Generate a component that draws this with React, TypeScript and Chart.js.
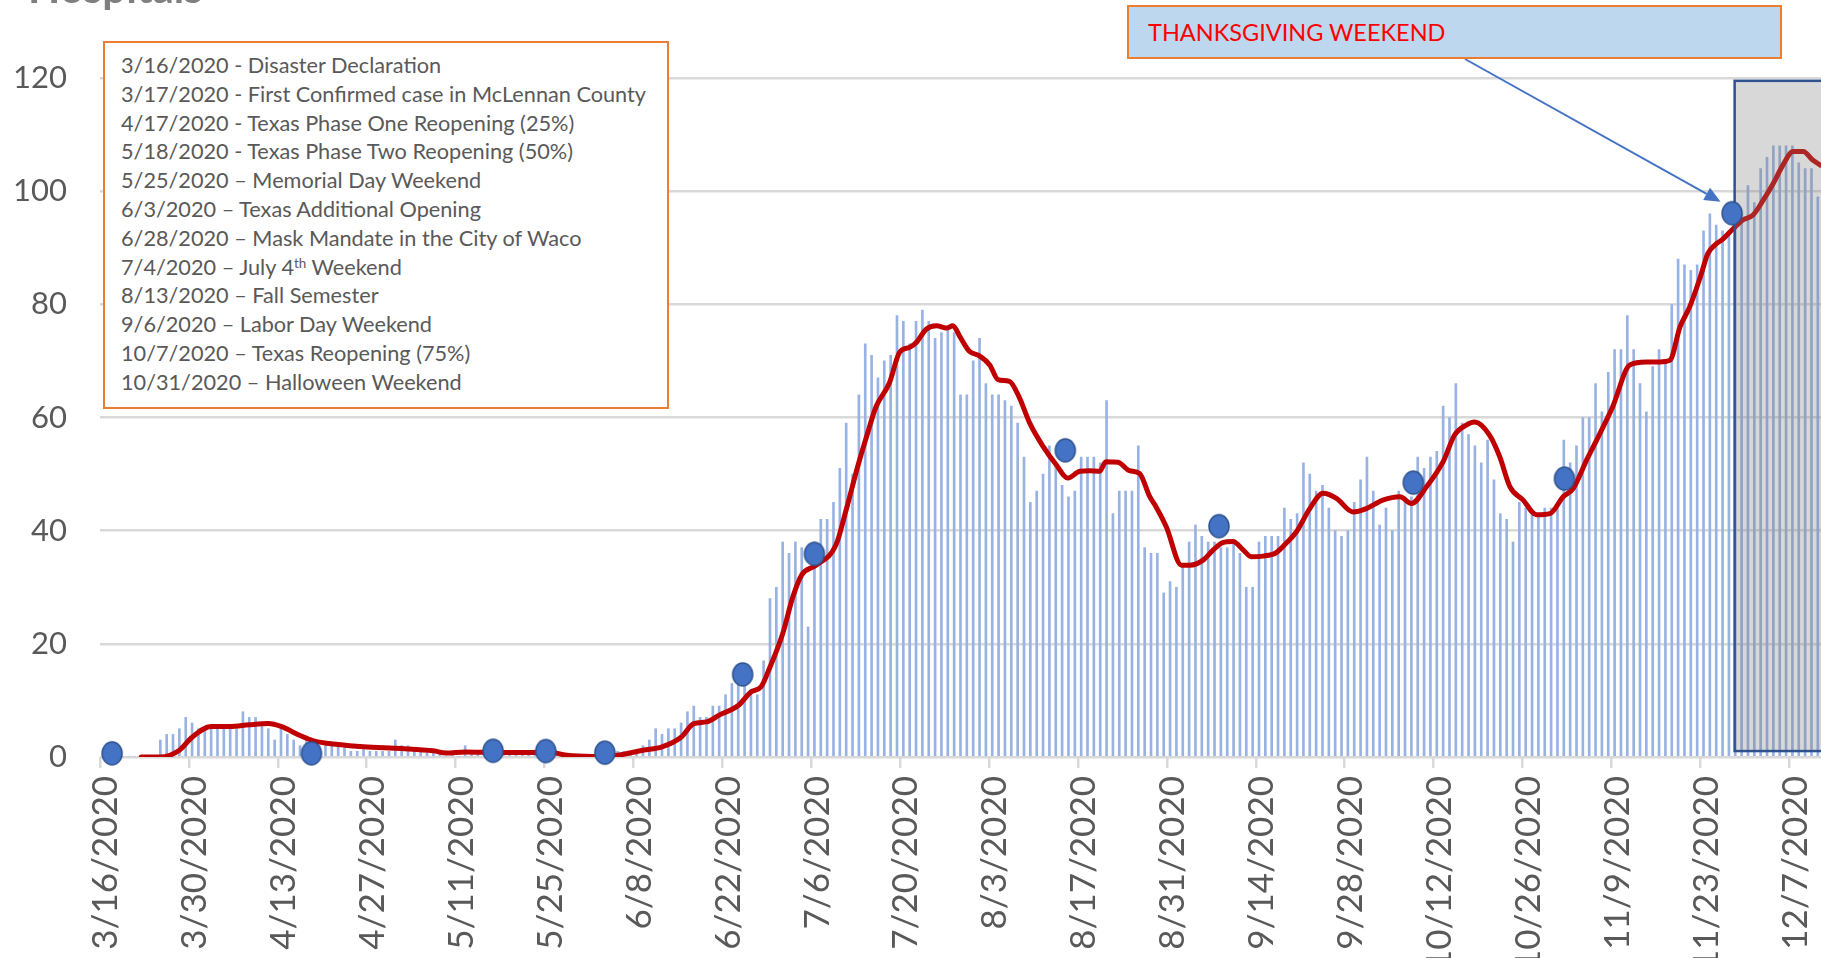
import React, { useEffect, useRef } from "react";
import { Chart, registerables } from "chart.js";

Chart.register(...registerables);

// ---------------- data (day index 0 = 3/16/2020) ----------------
const tickDays = [0, 14, 28, 42, 56, 70, 84, 98, 112, 126, 140, 154, 168, 182, 196, 210, 224, 238, 252, 266];
const tickLabels = [
  "3/16/2020", "3/30/2020", "4/13/2020", "4/27/2020", "5/11/2020", "5/25/2020", "6/8/2020",
  "6/22/2020", "7/6/2020", "7/20/2020", "8/3/2020", "8/17/2020", "8/31/2020", "9/14/2020",
  "9/28/2020", "10/12/2020", "10/26/2020", "11/9/2020", "11/23/2020", "12/7/2020",
];
const yMin = 0;
const yMax = 120;
const yStep = 20;

// daily hospitalized patients, 3/16/2020 .. 12/11/2020
const dailyHospitalized = [
  0, 0, 0, 0, 0, 0, 0, 0, 0, 3,
  4, 4, 5, 7, 6, 5, 5, 5, 5, 5,
  5, 5, 8, 7, 7, 6, 5, 3, 5, 4,
  3, 2, 3, 2, 2, 2, 2, 2, 2, 1,
  1, 2, 1, 1, 1, 1, 3, 2, 2, 1,
  1, 1, 1, 1, 0, 1, 0, 2, 1, 1,
  1, 1, 1, 1, 1, 1, 1, 1, 1, 1,
  0, 0, 0, 0, 0, 0, 0, 0, 0, 0,
  1, 1, 1, 1, 1, 2, 3, 5, 4, 5,
  5, 6, 8, 9, 7, 7, 9, 9, 11, 13,
  13, 14, 12, 11, 17, 28, 30, 38, 36, 38,
  37, 23, 38, 42, 42, 45, 51, 59, 50, 64,
  73, 71, 67, 70, 71, 78, 77, 73, 77, 79,
  77, 74, 75, 76, 75, 64, 64, 70, 74, 66,
  64, 64, 63, 62, 59, 53, 45, 47, 50, 55,
  52, 48, 46, 47, 53, 53, 53, 52, 63, 43,
  47, 47, 47, 55, 37, 36, 36, 29, 31, 30,
  34, 38, 41, 39, 38, 38, 37, 37, 38, 36,
  30, 30, 38, 39, 39, 39, 44, 42, 43, 52,
  50, 47, 48, 44, 40, 39, 40, 45, 49, 53,
  47, 41, 44, 40, 47, 46, 46, 53, 51, 53,
  54, 62, 60, 66, 59, 57, 55, 52, 56, 49,
  43, 42, 38, 45, 44, 43, 43, 44, 44, 45,
  56, 52, 55, 60, 60, 66, 61, 68, 72, 72,
  78, 72, 66, 61, 69, 72, 70, 80, 88, 87,
  86, 87, 93, 96, 94, 93, 93, 95, 96, 101,
  98, 104, 106, 108, 108, 108, 108, 105, 104, 104,
  99,
];

// moving-average line (day index, value)
const avgDay = [
  6, 9, 12, 14, 17, 20, 23, 26, 28, 31,
  33, 37, 41, 47, 52, 54, 57, 62, 67, 70,
  73, 77, 81, 85, 88, 91, 93, 95, 97, 100,
  102, 103.6, 105, 107, 108.6, 110, 112.3, 115.4, 117, 118.8,
  120.2, 121.7, 123.8, 125.4, 127, 128, 129.6, 131.2, 132.8, 133.8,
  134.9, 136.4, 138, 139.6, 140.9, 142.7, 144.2, 145.9, 148, 150.1,
  151.9, 153.8, 155.3, 156.9, 157.9, 159.8, 161.6, 163.2, 164.8, 165.8,
  167.4, 169.8, 171.1, 173.2, 174.8, 176.3, 177.9, 179.5, 180.8, 182.6,
  184.7, 186.3, 187.9, 190, 192.1, 194.2, 196.8, 198.9, 201.5, 204.2,
  206, 208.4, 211, 212.8, 214.7, 216, 218.3, 219.9, 221.5, 223.6,
  225.7, 227.8, 229.9, 231.5, 233.6, 235.7, 237.7, 240.4, 243, 245.1,
  246.7, 248.3, 249.8, 251.4, 252.7, 253.8, 255, 256.7, 258.2, 259.8,
  261.4, 263, 264.5, 266.1, 267.7, 269.2, 270.4,
];
const avgValue = [
  0, 0, 1.2, 3.5, 5.4, 5.4, 5.7, 5.9, 5.4, 3.8,
  2.9, 2.2, 1.8, 1.5, 1.1, 0.7, 0.9, 0.8, 0.8, 0.9,
  0.3, 0.1, 0.3, 1.2, 1.8, 3.5, 5.9, 6.2, 7.4, 9.1,
  11.5, 12.4, 15.9, 21.8, 28.3, 32.2, 33.9, 37.5, 43.7, 51.3,
  56.6, 61.9, 66.1, 71.5, 72.4, 73.2, 75.6, 76.2, 75.8, 76.2,
  74.3, 71.7, 70.9, 69.3, 66.7, 66.4, 63.7, 59, 54.9, 51.6,
  49.3, 50.5, 50.6, 50.5, 52.2, 52.1, 50.6, 50.1, 46, 44.2,
  40.7, 33.9, 33.9, 34.8, 36.6, 37.9, 38.1, 36.6, 35.4, 35.5,
  36.1, 37.8, 39.8, 43.9, 46.6, 45.7, 43.3, 43.9, 45.4, 46,
  44.8, 47.8, 52.2, 56.9, 58.7, 59.2, 56.9, 53.1, 47.8, 45.4,
  42.8, 43, 46, 47.5, 52.5, 57.2, 61.9, 69.3, 69.8, 69.8,
  70.1, 76, 79.5, 84.5, 89, 90.5, 91.5, 93.4, 94.9, 95.8,
  98.4, 101.4, 104.6, 107, 107, 105.5, 104.6,
];

// event markers (day index, value)
const eventDay = [1.4, 32.8, 61.4, 69.7, 79, 100.7, 112, 151.5, 175.7, 206.3, 230.1, 256.5];
const eventValue = [0.65, 0.65, 1.1, 1.06, 0.77, 14.6, 35.9, 54.2, 40.8, 48.5, 49.2, 96.1];

// highlighted (Thanksgiving onward) region
const highlightStartDay = 256.9;
const highlightTopValue = 119.5;
const highlightBottomValue = 1.05;

const eventNotes = [
  "3/16/2020 - Disaster Declaration",
  "3/17/2020 - First Confirmed case in McLennan County",
  "4/17/2020 - Texas Phase One Reopening (25%)",
  "5/18/2020 - Texas Phase Two Reopening (50%)",
  "5/25/2020 \u2013 Memorial Day Weekend",
  "6/3/2020 \u2013 Texas Additional Opening",
  "6/28/2020 \u2013 Mask Mandate in the City of Waco",
  "7/4/2020 \u2013 July 4|th| Weekend",
  "8/13/2020 \u2013 Fall Semester",
  "9/6/2020 \u2013 Labor Day Weekend",
  "10/7/2020 \u2013 Texas Reopening (75%)",
  "10/31/2020 \u2013 Halloween Weekend",
];
const calloutText = "THANKSGIVING WEEKEND";
const titleText = "Hospitals";

// ---------------- layout ----------------
const W = 1821;
const H = 958;
const CANVAS_W = W + 60; // plot runs past the right edge, as in the cropped original
const PLOT_LEFT = 100;
const VISIBLE_DAYS = dailyHospitalized.length; // days visible between PLOT_LEFT and W
const FONT = "Lato, 'Open Sans', sans-serif";
const ARROW_START = { x: 1465, y: 59 };

function makeDot(): HTMLCanvasElement {
  const c = document.createElement("canvas");
  c.width = 24;
  c.height = 27;
  const g = c.getContext("2d")!;
  g.beginPath();
  g.ellipse(12, 13.5, 10, 11.5, 0, 0, Math.PI * 2);
  g.fillStyle = "#4472C4";
  g.fill();
  g.lineWidth = 1.5;
  g.strokeStyle = "#2F528F";
  g.stroke();
  return c;
}

const overlayPlugin = {
  id: "overlayPlugin",
  afterDatasetDraw(chart: any, args: any) {
    if (args.index !== 1) return;
    const { ctx, scales } = chart;
    const x0 = scales.x.getPixelForValue(highlightStartDay);
    const y0 = scales.y.getPixelForValue(highlightTopValue);
    const y1 = scales.y.getPixelForValue(highlightBottomValue);
    const x1 = chart.width + 20;
    ctx.save();
    ctx.fillStyle = "rgba(127,127,127,0.3)";
    ctx.fillRect(x0, y0, x1 - x0, y1 - y0);
    ctx.lineWidth = 2.5;
    ctx.strokeStyle = "#2F528F";
    ctx.strokeRect(x0, y0, x1 - x0, y1 - y0);
    ctx.restore();
  },
  afterDraw(chart: any) {
    const { ctx, scales } = chart;
    const k = eventDay.length - 1;
    const cx = scales.x.getPixelForValue(eventDay[k]);
    const cy = scales.y.getPixelForValue(eventValue[k]);
    const tx = cx - 11.5;
    const ty = cy - 11.5;
    const dx = tx - ARROW_START.x;
    const dy = ty - ARROW_START.y;
    const len = Math.hypot(dx, dy);
    const ux = dx / len;
    const uy = dy / len;
    const headLen = 16;
    const headHalf = 7;
    const bx = tx - ux * headLen;
    const by = ty - uy * headLen;
    ctx.save();
    ctx.strokeStyle = "#4472C4";
    ctx.fillStyle = "#4472C4";
    ctx.lineWidth = 2;
    ctx.beginPath();
    ctx.moveTo(ARROW_START.x, ARROW_START.y);
    ctx.lineTo(bx, by);
    ctx.stroke();
    ctx.beginPath();
    ctx.moveTo(tx, ty);
    ctx.lineTo(bx - uy * headHalf, by + ux * headHalf);
    ctx.lineTo(bx + uy * headHalf, by - ux * headHalf);
    ctx.closePath();
    ctx.fill();
    ctx.restore();
  },
};

function NoteLine({ text }: { text: string }) {
  const parts = text.split("|");
  return (
    <div style={{ height: 28.8, lineHeight: "28.8px", whiteSpace: "nowrap" }}>
      {parts[0]}
      {parts.length > 1 ? (
        <sup style={{ fontSize: "0.62em", lineHeight: 0, verticalAlign: "0.55em" }}>{parts[1]}</sup>
      ) : null}
      {parts.length > 2 ? parts[2] : null}
    </div>
  );
}

export default function App() {
  const ref = useRef<HTMLCanvasElement>(null);

  useEffect(() => {
    const canvas = ref.current;
    if (!canvas) return;
    const dot = makeDot();
    const chart = new Chart(canvas, {
      type: "bar",
      data: {
        datasets: [
          {
            type: "bar",
            label: "Hospitalized",
            data: dailyHospitalized.map((v, i) => ({ x: i, y: v })),
            backgroundColor: "#98B3E3",
            borderWidth: 0,
            barThickness: 2,
            order: 3,
          } as any,
          {
            type: "line",
            label: "Moving average",
            data: avgDay.map((d, i) => ({ x: d, y: avgValue[i] })),
            borderColor: "#C00000",
            borderWidth: 5,
            pointRadius: 0,
            cubicInterpolationMode: "monotone",
            borderCapStyle: "round",
            borderJoinStyle: "round",
            order: 2,
          } as any,
          {
            type: "line",
            label: "Events",
            data: eventDay.map((d, i) => ({ x: d, y: eventValue[i] })),
            showLine: false,
            pointStyle: dot,
            pointRadius: 11,
            clip: false,
            order: 1,
          } as any,
        ],
      },
      options: {
        responsive: false,
        animation: false,
        devicePixelRatio: 1,
        layout: { padding: { top: 78, left: 0, right: 0, bottom: 0 } },
        plugins: { legend: { display: false }, tooltip: { enabled: false } },
        scales: {
          x: {
            type: "linear",
            min: -0.5,
            max: VISIBLE_DAYS - 0.5,
            bounds: "data",
            offset: false,
            grid: {
              display: true,
              drawOnChartArea: false,
              drawTicks: true,
              tickLength: 11,
              color: "#D9D9D9",
              lineWidth: 2.5,
              offset: false,
            },
            border: { display: false },
            ticks: {
              autoSkip: false,
              maxRotation: 90,
              minRotation: 90,
              padding: 8,
              labelOffset: 6,
              color: "#595959",
              font: { family: FONT, size: 35 },
              callback: (_v: any, i: number) => tickLabels[i],
            },
            afterBuildTicks: (s: any) => {
              s.ticks = tickDays.map((d) => ({ value: d - 0.5 }));
            },
            afterFit: (s: any) => {
              s.height = 201;
              s.paddingLeft = 0;
              s.paddingRight = 0;
            },
          } as any,
          y: {
            min: yMin,
            max: yMax,
            ticks: {
              stepSize: yStep,
              padding: 33,
              color: "#595959",
              font: { family: FONT, size: 31 },
            },
            grid: { color: "#D9D9D9", lineWidth: 2.5, drawTicks: false },
            border: { display: false },
            afterFit: (s: any) => {
              s.width = PLOT_LEFT;
            },
          } as any,
        },
      },
      plugins: [overlayPlugin as any],
    });
    // make exactly VISIBLE_DAYS days fit between PLOT_LEFT and the window's right edge
    const area = chart.chartArea;
    const pxPerDay = (W - area.left) / VISIBLE_DAYS;
    (chart.options.scales as any).x.max = -0.5 + (area.right - area.left) / pxPerDay;
    chart.update();
    return () => chart.destroy();
  }, []);

  return (
    <div
      style={{
        position: "fixed",
        left: 0,
        top: 0,
        width: W,
        height: H,
        overflow: "hidden",
        background: "#ffffff",
        fontFamily: FONT,
      }}
    >
      <canvas
        ref={ref}
        width={CANVAS_W}
        height={H}
        style={{ position: "absolute", left: 0, top: 0, width: CANVAS_W, height: H }}
      />
      <div
        style={{
          position: "absolute",
          left: 28,
          top: -34,
          fontSize: 42,
          lineHeight: "42px",
          fontWeight: 700,
          color: "#7F7F7F",
          whiteSpace: "nowrap",
        }}
      >
        {titleText}
      </div>
      <div
        style={{
          position: "absolute",
          left: 103,
          top: 41,
          width: 566,
          height: 368,
          boxSizing: "border-box",
          border: "2.5px solid #ED7D31",
          background: "#ffffff",
          padding: "8px 0 0 16px",
          fontSize: 21.7,
          color: "#595959",
        }}
      >
        {eventNotes.map((t, i) => (
          <NoteLine key={i} text={t} />
        ))}
      </div>
      <div
        style={{
          position: "absolute",
          left: 1127,
          top: 5,
          width: 655,
          height: 54,
          boxSizing: "border-box",
          border: "2.5px solid #ED7D31",
          background: "#BDD7EE",
          display: "flex",
          alignItems: "center",
          paddingLeft: 19,
          fontSize: 23.5,
          color: "#FF0000",
          whiteSpace: "nowrap",
        }}
      >
        {calloutText}
      </div>
    </div>
  );
}
